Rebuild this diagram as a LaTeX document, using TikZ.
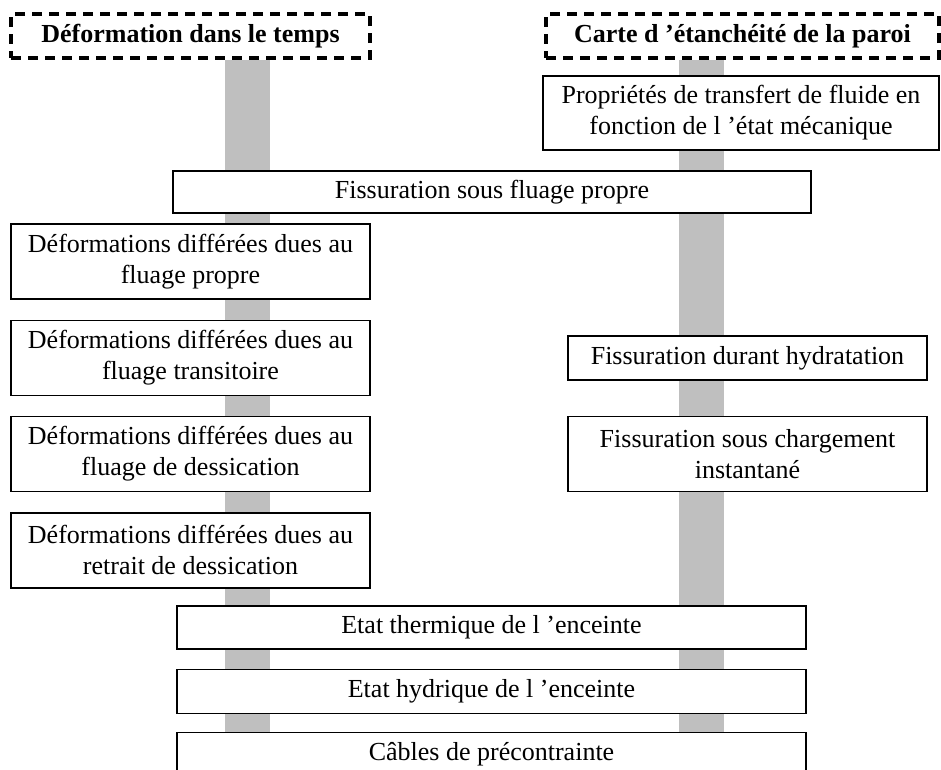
\documentclass[tikz,border=0pt]{standalone}
\usepackage{fontspec}
\setmainfont{Liberation Serif}
\usetikzlibrary{positioning, backgrounds}

\begin{document}
\begin{tikzpicture}[x=1pt, y=-1pt, node distance=20pt,
        boite/.style={draw=black, line width=1.3pt, fill=white, align=center, inner sep=0pt, font=\fontsize{26}{31}\selectfont},
        entete/.style={draw=black, line width=3.5pt, dash pattern=on 10pt off 7pt, inner sep=0pt, font=\fontsize{26}{31}\selectfont\bfseries},
        barre/.style={gray!50, line width=45pt}]
        \useasboundingbox (0,0) rectangle (941,769);
        \clip (0,0) rectangle (941,769);

        % En-tetes
        \node[entete, minimum width=359pt, minimum height=44pt] (defo) at (190.5,36) {Déformation dans le temps};
        \node[entete, minimum width=393pt, minimum height=44pt] (carte) at (742.5,36) {Carte d 'étanchéité de la paroi};

        % Colonne de gauche
        \node[boite, minimum width=638pt, minimum height=42pt] (fissProp) at (492,192) {Fissuration sous fluage propre};
        \node[boite, minimum width=359pt, minimum height=75pt] (defPropre) at (190.5,261.5) {Déformations différées dues au\\fluage propre};
        \node[boite, minimum width=359pt, minimum height=75pt, below=20pt of defPropre] (defTrans) {Déformations différées dues au\\fluage transitoire};
        \node[boite, minimum width=359pt, minimum height=75pt, below=20pt of defTrans] (defDess) {Déformations différées dues au\\fluage de dessication};
        \node[boite, minimum width=359pt, minimum height=75pt, below=20pt of defDess] (defRetrait) {Déformations différées dues au\\retrait de dessication};

        % Colonne de droite
        \node[boite, minimum width=396pt, minimum height=74pt] (transfert) at (741,113) {Propriétés de transfert de fluide en\\fonction de l 'état mécanique};
        \node[boite, minimum width=359pt, minimum height=44pt] (fissHydra) at (747.5,358) {Fissuration durant hydratation};
        \node[boite, minimum width=359pt, minimum height=75pt, below=35pt of fissHydra] (fissCharg) {Fissuration sous chargement\\instantané};

        % Boites communes
        \node[boite, minimum width=629pt, minimum height=43pt] (thermique) at (491.5,627.5) {Etat thermique de l 'enceinte};
        \node[boite, minimum width=629pt, minimum height=44pt, below=19pt of thermique] (hydrique) {Etat hydrique de l 'enceinte};
        \node[boite, minimum width=629pt, minimum height=44pt, below=18pt of hydrique] (cables) {Câbles de précontrainte};

        % Barres grises
        \coordinate (basG) at (247.5,769);
        \coordinate (basD) at (701.5,769);
        \begin{scope}[on background layer]
            \draw[barre] (defo.south -| basG) -- (basG);
            \draw[barre] (carte.south -| basD) -- (basD);
        \end{scope}
    \end{tikzpicture}
\end{document}
